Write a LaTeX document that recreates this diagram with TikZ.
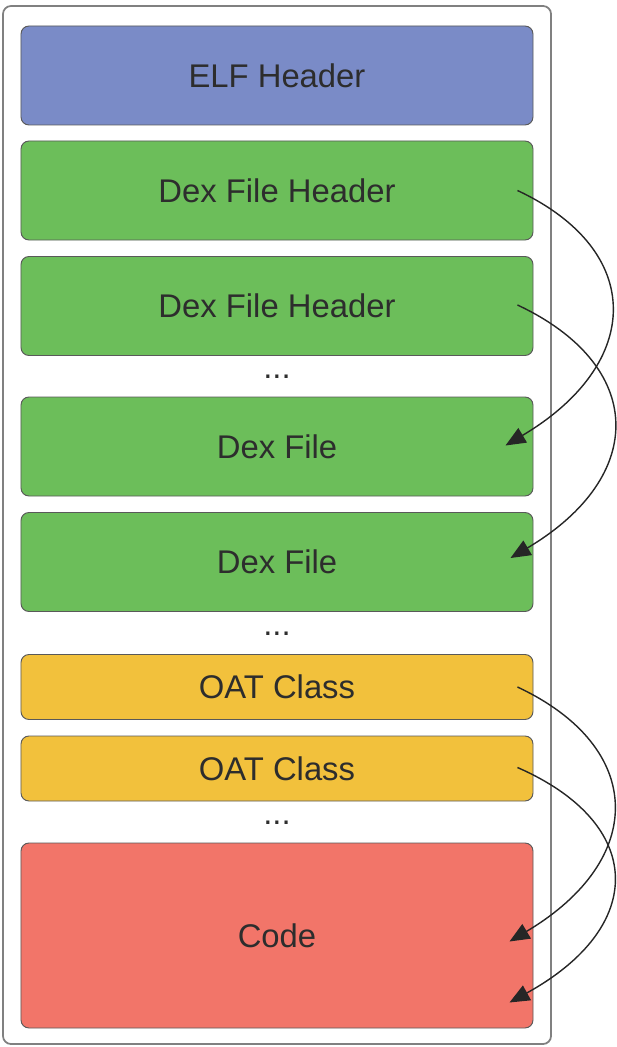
\documentclass[tikz,border=0pt]{standalone}
\usepackage{fontspec}
\setmainfont{Liberation Sans}
\usetikzlibrary{calc,arrows.meta}

\definecolor{elfblue}{RGB}{122,139,199}
\definecolor{dexgreen}{RGB}{108,190,90}
\definecolor{oatyellow}{RGB}{242,193,60}
\definecolor{codered}{RGB}{242,117,105}
\definecolor{txtgray}{RGB}{45,45,45}

\begin{document}
\begin{tikzpicture}[
    x=0.03cm, y=-0.03cm,
    block/.style={draw=black!65, line width=0.8pt, rounded corners=0.24cm,
        minimum width=15.36cm, text=txtgray,
        font=\fontsize{28}{32}\selectfont}, % Стиль для блоков
    tall/.style={block, minimum height=2.97cm}, % Высокие блоки
    short/.style={block, minimum height=1.95cm}, % Низкие блоки
    dots/.style={text=txtgray, font=\fontsize{28}{32}\selectfont}, % Многоточие
    link/.style={line width=1.2pt, black!85,
        -{Triangle[length=6mm, width=5mm]}} % Стрелки
]
    \useasboundingbox (0,0) rectangle (616,1047);

    % Рамка файла
    \draw[black!50, line width=1.5pt, rounded corners=0.24cm] (3,6) rectangle (551,1044);

    % Блоки
    \node[tall, fill=elfblue] (elf) at (277,75.5) {ELF Header};
    \node[tall, fill=dexgreen] (hdrA) at (277,190.5) {Dex File Header};
    \node[tall, fill=dexgreen] (hdrB) at (277,306) {Dex File Header};
    \node[dots] (dotsA) at (277,377) {...};
    \node[tall, fill=dexgreen] (dexA) at (277,446.5) {Dex File};
    \node[tall, fill=dexgreen] (dexB) at (277,562) {Dex File};
    \node[dots] (dotsB) at (277,634) {...};
    \node[short, fill=oatyellow] (oatA) at (277,687) {OAT Class};
    \node[short, fill=oatyellow] (oatB) at (277,768.5) {OAT Class};
    \node[dots] (dotsC) at (277,823) {...};
    \node[block, fill=codered, minimum height=5.55cm] (code) at (277,935.5) {Code};

    % Стрелки
    \draw[link] ($(hdrA.east)+(-16,0)$) .. controls +(128,60) and +(138,-82) .. ($(dexA.east)+(-28,-1)$);
    \draw[link] ($(hdrB.east)+(-16,-1)$) .. controls +(128,60) and +(138,-82) .. ($(dexB.east)+(-23,-4)$);
    \draw[link] ($(oatA.east)+(-16,0)$) .. controls +(128,60) and +(138,-82) .. ($(code.east)+(-24,6)$);
    \draw[link] ($(oatB.east)+(-16,-1)$) .. controls +(128,56) and +(138,-76) .. ($(code.east)+(-24,67)$);

\end{tikzpicture}
\end{document}
